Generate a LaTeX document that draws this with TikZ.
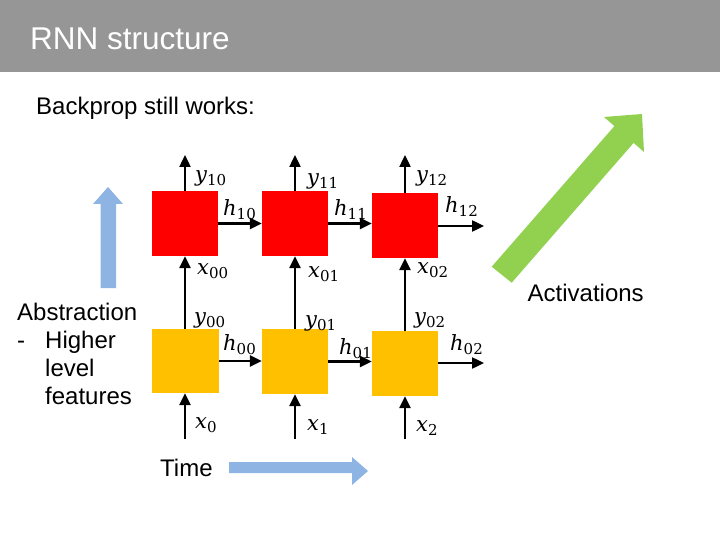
\documentclass[tikz,border=0pt]{standalone}
\usepackage{fontspec}
\setmainfont{Liberation Sans}
\newfontfamily\lblfont{DejaVu Serif}
\usetikzlibrary{arrows.meta,calc}
\definecolor{hdrgray}{RGB}{150,150,150}
\definecolor{boxred}{RGB}{255,0,0}
\definecolor{boxyel}{RGB}{255,192,0}
\definecolor{arrblue}{RGB}{141,180,226}
\definecolor{arrgreen}{RGB}{146,208,80}
\newcommand{\lbl}[2]{{\lblfont\fontsize{21}{24}\selectfont\itshape #1\upshape\raisebox{-4pt}{\fontsize{15}{18}\selectfont #2}}}
\tikzset{
  cell/.style={minimum width=66pt,minimum height=65pt,inner sep=0pt,draw=none},
  conn/.style={line width=2.4pt,-{Triangle[length=12pt,width=11pt]}},
  lab/.style={inner sep=0pt,anchor=base west},
  txt/.style={inner sep=0pt,anchor=base west,font=\fontsize{24}{28}\selectfont}
}
\begin{document}
\begin{tikzpicture}[x=1pt,y=-1pt]
\useasboundingbox (0,0) rectangle (720,540);
% header
\fill[hdrgray] (0,0) rectangle (720,72);
\node[txt,text=white,font=\fontsize{31.5}{34}\selectfont] (title) at (30,50) {RNN structure};
\node[txt] (sub) at (36,115) {Backprop still works:};
% cells
\node[cell,fill=boxred] (r0) at (185,223.5) {};
\node[cell,fill=boxred] (r1) at (295,223.5) {};
\node[cell,fill=boxred] (r2) at (405,225.5) {};
\node[cell,fill=boxyel,minimum width=67pt,minimum height=64pt] (q0) at (185.5,361) {};
\node[cell,fill=boxyel] (q1) at (295,361.5) {};
\node[cell,fill=boxyel] (q2) at (405,363.5) {};
% free ends
\coordinate (t0) at (185,155);
\coordinate (t1) at (295,155);
\coordinate (t2) at (405,155);
\coordinate (b0) at (185,439);
\coordinate (b1) at (295,439);
\coordinate (b2) at (405,439);
\coordinate (e1) at (484,226);
\coordinate (e0) at (484,363);
% connectors
\draw[conn] (r0.north) -- (t0);
\draw[conn] (r1.north) -- (t1);
\draw[conn] (r2.north) -- (t2);
\draw[conn] (q0.north -| r0.south) -- (r0.south);
\draw[conn] (q1.north) -- (r1.south);
\draw[conn] (q2.north) -- (r2.south);
\draw[conn] (b0) -- (b0 |- q0.south);
\draw[conn] (b1) -- (q1.south);
\draw[conn] (b2) -- (q2.south);
\draw[conn] (r0.east) -- (r0.east -| r1.west);
\draw[conn] (r1.east) -- (r1.east -| r2.west);
\draw[conn] (r2.east |- e1) -- (e1);
\draw[conn] (q0.east) -- (q0.east -| q1.west);
\draw[conn] (q1.east) -- (q1.east -| q2.west);
\draw[conn] (q2.east |- e0) -- (e0);
% labels top row
\node[lab] (ly10) at (195,182) {\lbl{y}{10}};
\node[lab] (ly11) at (307,185) {\lbl{y}{11}};
\node[lab] (ly12) at (416,182) {\lbl{y}{12}};
\node[lab] (lh10) at (223,215) {\lbl{h}{10}};
\node[lab] (lh11) at (334,215) {\lbl{h}{11}};
\node[lab] (lh12) at (445,213) {\lbl{h}{12}};
\node[lab] (lx00) at (197,274) {\lbl{x}{00}};
\node[lab] (lx01) at (308,277) {\lbl{x}{01}};
\node[lab] (lx02) at (417,273) {\lbl{x}{02}};
% labels bottom row
\node[lab] (ly00) at (194,323) {\lbl{y}{00}};
\node[lab] (ly01) at (305,326) {\lbl{y}{01}};
\node[lab] (ly02) at (414,323) {\lbl{y}{02}};
\node[lab] (lh00) at (223,350) {\lbl{h}{00}};
\node[lab] (lh01) at (339,354) {\lbl{h}{01}};
\node[lab] (lh02) at (450,350) {\lbl{h}{02}};
\node[lab] (lx0) at (195,428) {\lbl{x}{0}};
\node[lab] (lx1) at (307,430) {\lbl{x}{1}};
\node[lab] (lx2) at (416,431) {\lbl{x}{2}};
% blue up arrow
\fill[arrblue] (100.7,288) -- (100.7,204) -- (93,204) -- (108,187) -- (123,204) -- (116,204) -- (116,288) -- cycle;
\node[txt] (abs) at (17,320) {Abstraction};
\node[txt] (dash) at (17,348) {-};
\node[txt] (hi) at (45,348) {Higher};
\node[txt] (lev) at (45,376) {level};
\node[txt] (feat) at (45,404) {features};
% green arrow
\fill[arrgreen] (491.7,266.7) -- (614.4,126.1) -- (604,117) -- (642,114) -- (644,152) -- (633.6,142.9) -- (511.7,282.7) -- cycle;
\node[txt] (act) at (527.5,301) {Activations};
% time arrow
\node[txt] (time) at (160,476) {Time};
\fill[arrblue] (229,462) -- (352,462) -- (352,457) -- (368,471) -- (352,485) -- (352,473) -- (229,473) -- cycle;
\end{tikzpicture}
\end{document}
